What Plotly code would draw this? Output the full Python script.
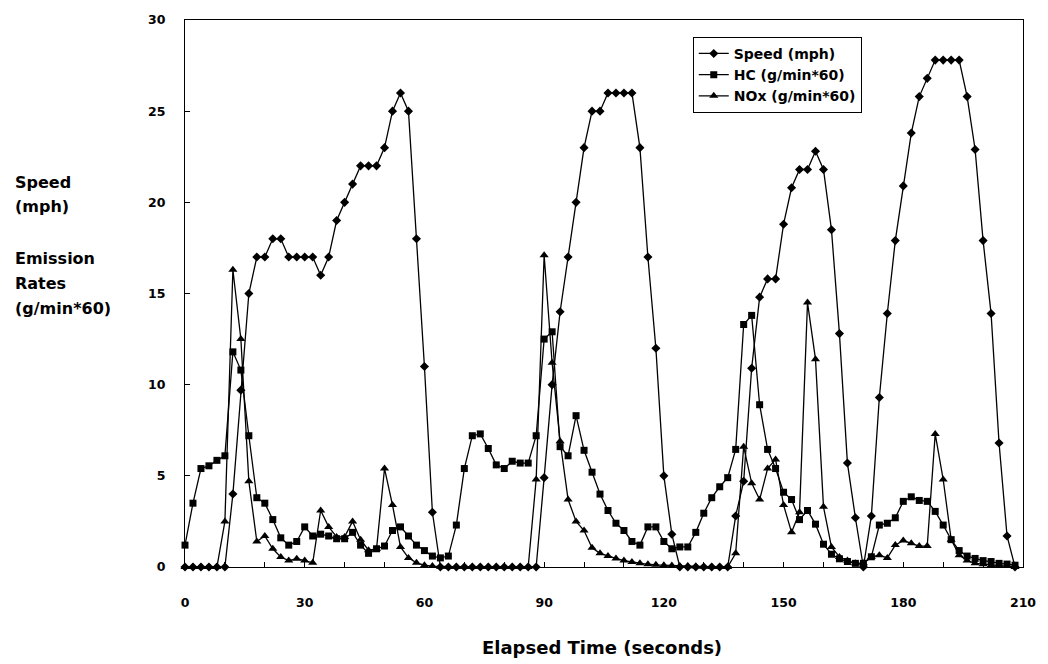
import plotly.graph_objects as go

# Elapsed time (seconds)
time_s = [0, 2, 4, 6, 8, 10, 12, 14, 16, 18,
          20, 22, 24, 26, 28, 30, 32, 34, 36, 38,
          40, 42, 44, 46, 48, 50, 52, 54, 56, 58,
          60, 62, 64, 66, 68, 70, 72, 74, 76, 78,
          80, 82, 84, 86, 88, 90, 92, 94, 96, 98,
          100, 102, 104, 106, 108, 110, 112, 114, 116, 118,
          120, 122, 124, 126, 128, 130, 132, 134, 136, 138,
          140, 142, 144, 146, 148, 150, 152, 154, 156, 158,
          160, 162, 164, 166, 168, 170, 172, 174, 176, 178,
          180, 182, 184, 186, 188, 190, 192, 194, 196, 198,
          200, 202, 204, 206, 208]

speed_mph = [0, 0, 0, 0, 0, 0, 4, 9.7, 15, 17,
             17, 18, 18, 17, 17, 17, 17, 16, 17, 19,
             20, 21, 22, 22, 22, 23, 25, 26, 25, 18,
             11, 3, 0, 0, 0, 0, 0, 0, 0, 0,
             0, 0, 0, 0, 0, 4.9, 10, 14, 17, 20,
             23, 25, 25, 26, 26, 26, 26, 23, 17, 12,
             5, 1.8, 0, 0, 0, 0, 0, 0, 0, 2.8,
             4.7, 10.9, 14.8, 15.8, 15.8, 18.8, 20.8, 21.8, 21.8, 22.8,
             21.8, 18.5, 12.8, 5.7, 2.7, 0, 2.8, 9.3, 13.9, 17.9,
             20.9, 23.8, 25.8, 26.8, 27.8, 27.8, 27.8, 27.8, 25.8, 22.9,
             17.9, 13.9, 6.8, 1.7, 0]

hc_rate = [1.2, 3.5, 5.4, 5.55, 5.85, 6.1, 11.8, 10.8, 7.2, 3.8,
           3.5, 2.6, 1.6, 1.2, 1.4, 2.2, 1.7, 1.8, 1.7, 1.55,
           1.55, 1.9, 1.2, 0.75, 1.0, 1.15, 2.0, 2.2, 1.7, 1.2,
           0.9, 0.6, 0.5, 0.6, 2.3, 5.4, 7.2, 7.3, 6.5, 5.6,
           5.4, 5.8, 5.7, 5.7, 7.2, 12.5, 12.9, 6.6, 6.1, 8.3,
           6.4, 5.2, 4.0, 3.1, 2.4, 2.0, 1.4, 1.2, 2.2, 2.2,
           1.4, 1.0, 1.1, 1.1, 1.9, 2.95, 3.8, 4.4, 4.9, 6.45,
           13.3, 13.8, 8.9, 6.45, 5.4, 4.1, 3.7, 2.6, 3.1, 2.35,
           1.25, 0.7, 0.45, 0.3, 0.2, 0.2, 0.56, 2.3, 2.4, 2.7,
           3.6, 3.85, 3.65, 3.6, 3.05, 2.3, 1.5, 0.9, 0.6, 0.47,
           0.35, 0.3, 0.2, 0.16, 0.1]

nox_rate = [0, 0, 0, 0, 0, 2.5, 16.3, 12.5, 4.7, 1.4,
            1.7, 1.0, 0.55, 0.35, 0.45, 0.35, 0.23, 3.1, 2.2, 1.65,
            1.65, 2.5, 1.5, 0.92, 1.0, 5.4, 3.4, 1.1, 0.5, 0.23,
            0.1, 0.05, 0.02, 0, 0, 0, 0, 0, 0, 0,
            0, 0, 0, 0, 4.8, 17.1, 11.2, 6.9, 3.7, 2.5,
            2.0, 1.05, 0.75, 0.6, 0.47, 0.35, 0.28, 0.2, 0.15, 0.12,
            0.1, 0.08, 0.05, 0.05, 0.03, 0.02, 0, 0, 0, 0.75,
            6.6, 4.6, 3.7, 5.4, 5.9, 3.4, 1.9, 3.0, 14.5, 11.4,
            3.3, 1.1, 0.55, 0.35, 0.2, 0.2, 0.55, 0.65, 0.5, 1.2,
            1.45, 1.3, 1.15, 1.15, 7.3, 4.8, 1.5, 0.65, 0.35, 0.2,
            0.15, 0.1, 0.08, 0.05, 0]

series_names = ["Speed (mph)", "HC (g/min*60)", "NOx (g/min*60)"]
x_tick_vals = [0, 30, 60, 90, 120, 150, 180, 210]
y_tick_vals = [0, 5, 10, 15, 20, 25, 30]
left_label_lines = ["Speed", "(mph)", "Emission", "Rates", "(g/min*60)"]
x_title = "Elapsed Time (seconds)"

assert len(time_s) == len(speed_mph) == len(hc_rate) == len(nox_rate)

FONT = "DejaVu Sans"
fig = go.Figure()
styles = [
    dict(symbol="diamond", size=7),
    dict(symbol="square", size=7),
    dict(symbol="triangle-up", size=8),
]
for name, vals, st in zip(series_names, [speed_mph, hc_rate, nox_rate], styles):
    fig.add_trace(go.Scatter(
        x=time_s, y=vals, name=name, mode="lines+markers",
        line=dict(color="black", width=1.3),
        marker=dict(color="black", symbol=st["symbol"], size=st["size"], line=dict(width=0)),
        cliponaxis=False,
    ))

W, H = 1048, 664
L, R, T, B = 185, 18, 15, 97
pw, ph = W - L - R, H - T - B

fig.update_layout(
    width=W, height=H,
    margin=dict(l=L, r=R, t=T, b=B),
    paper_bgcolor="white", plot_bgcolor="white",
    showlegend=True,
    legend=dict(
        x=(697 - L) / pw, y=1 - (32 - T) / ph, xanchor="left", yanchor="top",
        bgcolor="white", bordercolor="black", borderwidth=1,
        font=dict(family=FONT, size=14, color="black", weight="bold"),
        tracegroupgap=0, itemwidth=30,
    ),
    xaxis=dict(
        range=[0, 210], tickvals=x_tick_vals, ticktext=[str(v) for v in x_tick_vals],
        ticks="inside", ticklen=5, tickwidth=1, tickcolor="black",
        minor=dict(dtick=10, ticks="inside", ticklen=5, tickcolor="black", tickwidth=1),
        showline=True, linecolor="black", linewidth=1, mirror=True,
        showgrid=False, zeroline=False,
        tickfont=dict(family=FONT, size=12.5, color="black", weight="bold"),
        ticklabelstandoff=24,
    ),
    yaxis=dict(
        range=[0, 30], tickvals=y_tick_vals,
        ticks="inside", ticklen=5, tickwidth=1, tickcolor="black",
        showline=True, linecolor="black", linewidth=1, mirror=True,
        showgrid=False, zeroline=False,
        tickfont=dict(family=FONT, size=12.5, color="black", weight="bold"),
        ticklabelstandoff=16,
    ),
)

annotations = [dict(
    text=x_title, xref="paper", yref="paper",
    x=(605 - L) / pw, y=(T + ph - 648) / ph, xanchor="center", yanchor="middle",
    showarrow=False, font=dict(family=FONT, size=18, color="black", weight="bold"),
)]
label_y = [179, 203, 256, 281, 306]
for txt, yy in zip(left_label_lines, label_y):
    annotations.append(dict(
        text=txt, xref="paper", yref="paper",
        x=(12 - L) / pw, y=(T + ph - yy) / ph, xanchor="left", yanchor="middle",
        showarrow=False, font=dict(family=FONT, size=16, color="black", weight="bold"),
    ))
fig.update_layout(annotations=annotations)

fig.write_html(
    "out.html",
    config={"displayModeBar": False},
    post_script="document.body.style.margin='0';document.body.style.overflow='hidden';",
)
